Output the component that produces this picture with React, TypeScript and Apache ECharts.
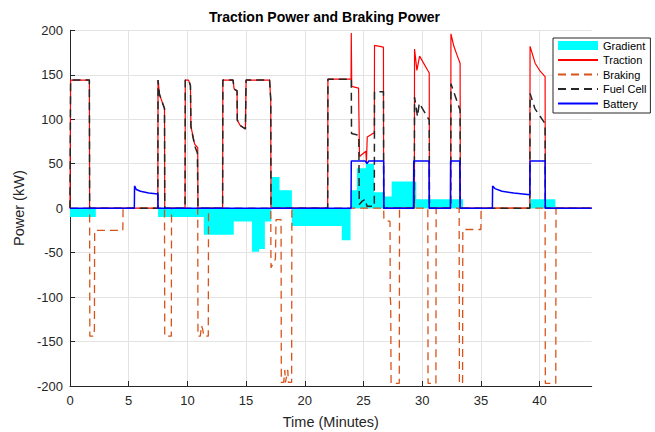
import React, { useEffect, useRef } from "react";
import * as echarts from "echarts";

const titleText = "Traction Power and Braking Power";
const xName = "Time (Minutes)";
const yName = "Power (kW)";
const seriesNames = ["Gradient", "Traction", "Braking", "Fuel Cell", "Battery"];
const xTicks = [0, 5, 10, 15, 20, 25, 30, 35, 40];
const yTicks = [-200, -150, -100, -50, 0, 50, 100, 150, 200];
const X_MAX = 44.44;

// Gradient: step values, each held from its time until the next one
const gradient: [number, number][] = [
  [0, -10], [2.2, 0], [7.5, -10], [11.4, -30], [13.95, -15], [15.5, -49], [16.1, -46],
  [16.6, -15], [17.15, 35], [17.85, 20], [18.9, -20], [23.15, -36], [23.9, 20],
  [24.45, 45], [25.2, 50], [25.9, 18], [26.7, 13], [27.4, 30], [29.5, 10], [33.48, 0],
  [39.19, 10], [41.35, 0], [44.44, 0],
];

const traction: [number, number][] = [
  [0, 0], [0.05, 144], [1.65, 144], [1.67, 0],
  [7.48, 0], [7.5, 144], [7.62, 128], [8.05, 112], [8.07, 0],
  [9.8, 0], [9.82, 144], [10.1, 144], [10.26, 138], [10.3, 92], [10.62, 72], [10.88, 68], [10.9, 0],
  [13.0, 0], [13.02, 144], [13.89, 144], [13.98, 134], [14.23, 132], [14.25, 99], [14.5, 93], [14.94, 89],
  [15.0, 144], [17.0, 144], [17.1, 122], [17.12, 0],
  [21.95, 0], [21.97, 145], [23.94, 145], [23.96, 197], [24.0, 137], [24.58, 135], [24.66, 58],
  [25.2, 64], [25.25, 52], [25.32, 80], [25.8, 84], [25.92, 84], [25.94, 183], [26.7, 181], [26.72, 0],
  [29.33, 0], [29.35, 179], [29.55, 155], [29.78, 171], [30.6, 152], [30.62, 0],
  [32.43, 0], [32.45, 196], [32.7, 182], [33.0, 171], [33.23, 163], [33.25, 0],
  [39.17, 0], [39.19, 182], [39.62, 163], [40.05, 154], [40.47, 148], [40.49, 0],
  [44.44, 0],
];

const braking: [number, number][] = [
  [0, 0], [1.67, 0], [1.69, -144], [2.05, -144], [2.08, -135], [2.1, -25], [4.5, -25], [4.52, 0],
  [8.05, 0], [8.07, -144], [8.63, -144], [8.65, 0],
  [10.88, 0], [10.9, -144], [11.1, -144], [11.2, -132], [11.3, -136], [11.4, -144], [11.78, -144], [11.8, 0],
  [17.1, 0], [17.12, -67], [17.5, -57], [17.55, -13], [17.98, -13], [18.0, -196], [18.2, -196],
  [18.3, -182], [18.35, -196], [18.55, -182], [18.6, -196], [18.88, -196], [18.9, 0],
  [26.72, 0], [26.74, -13], [27.26, -15], [27.28, -100], [27.32, -108], [27.35, -197], [28.05, -197], [28.07, 0],
  [30.48, 0], [30.5, -197], [31.17, -197], [31.19, 0],
  [33.15, 0], [33.17, -197], [33.44, -197], [33.46, -24], [35.0, -24], [35.02, 0],
  [40.47, 0], [40.49, -197], [41.38, -197], [41.4, 0],
  [44.44, 0],
];

const fuelCell: [number, number][] = [
  [0, 0], [0.05, 144], [1.65, 144], [1.67, 0],
  [7.48, 0], [7.5, 144], [7.62, 128], [8.05, 112], [8.07, 0],
  [9.8, 0], [9.82, 144], [10.1, 144], [10.26, 138], [10.3, 92], [10.62, 70], [10.85, 62], [10.9, 0],
  [13.0, 0], [13.02, 144], [13.89, 144], [13.98, 134], [14.23, 132], [14.25, 99], [14.5, 93], [14.94, 89],
  [15.0, 144], [17.0, 144], [17.1, 122], [17.12, 0],
  [21.95, 0], [21.97, 145], [23.96, 145], [23.98, 84], [24.6, 82], [24.64, 4], [24.9, 8], [25.15, 10],
  [25.3, 2], [25.92, 2], [25.94, 131], [26.7, 131], [26.72, 0],
  [29.33, 0], [29.35, 125], [29.6, 103], [29.75, 118], [30.6, 99], [30.62, 0],
  [32.43, 0], [32.45, 140], [33.23, 110], [33.25, 0],
  [39.17, 0], [39.19, 129], [39.6, 112], [40.47, 95], [40.49, 0],
  [44.44, 0],
];

const battery: [number, number][] = [
  [0, 0], [5.48, 0], [5.5, 25], [5.65, 21], [6.0, 19], [6.7, 17], [7.48, 16], [7.5, 0],
  [23.94, 0], [23.96, 53], [25.15, 53], [25.3, 50], [25.45, 53], [26.72, 53], [26.74, 0],
  [29.26, 0], [29.28, 53], [30.58, 53], [30.6, 0],
  [32.4, 0], [32.42, 53], [33.2, 53], [33.22, 0],
  [35.98, 0], [36.0, 25], [36.2, 22], [36.8, 19], [37.8, 17], [39.17, 15], [39.19, 53], [40.47, 53], [40.49, 0],
  [44.44, 0],
];

export default function App() {
  const ref = useRef<HTMLDivElement>(null);
  useEffect(() => {
    const chart = echarts.init(ref.current!, null, { renderer: "svg" });
    const font = "'Liberation Sans', Arial, Helvetica, sans-serif";
    const axisColor = "#262626";
    const gridColor = "#E3E3E3";
    chart.setOption({
      animation: false,
      backgroundColor: "#ffffff",
      title: {
        text: titleText,
        left: 209,
        top: 10,
        padding: 0,
        textStyle: { fontFamily: font, fontSize: 14, fontWeight: "bold", color: "#000" },
      },
      legend: {
        orient: "vertical",
        left: 553,
        top: 38,
        backgroundColor: "#fff",
        borderColor: axisColor,
        borderWidth: 1,
        padding: [2, 4, 4, 4],
        itemGap: 3.5,
        itemWidth: 40,
        itemHeight: 9,
        itemStyle: { opacity: 0 },
        textStyle: { fontFamily: font, fontSize: 11, color: "#000" },
        data: [
          { name: seriesNames[0], icon: "rect", itemStyle: { opacity: 1, color: "#00FFFF" } },
          seriesNames[1], seriesNames[2], seriesNames[3], seriesNames[4],
        ],
      },
      grid: { left: 70, right: 63.3, top: 30.3, bottom: 46, outerBoundsMode: "none" },
      xAxis: {
        type: "value",
        min: 0,
        max: X_MAX,
        interval: 5,
        name: xName,
        nameLocation: "middle",
        nameGap: 28,
        nameTextStyle: { fontFamily: font, fontSize: 14.5, color: axisColor },
        axisLine: { onZero: false, lineStyle: { color: axisColor, width: 1 } },
        axisTick: { inside: true, length: 5, customValues: xTicks, lineStyle: { color: axisColor } },
        axisLabel: {
          customValues: xTicks,
          margin: 8,
          fontFamily: font,
          fontSize: 13,
          color: axisColor,
          formatter: (v: number) => (xTicks.includes(v) ? String(v) : ""),
        },
        splitLine: { show: true, lineStyle: { color: gridColor, width: 1 } },
      },
      yAxis: {
        type: "value",
        min: yTicks[0],
        max: yTicks[yTicks.length - 1],
        interval: 50,
        name: yName,
        nameLocation: "middle",
        nameGap: 40,
        nameTextStyle: { fontFamily: font, fontSize: 14.5, color: axisColor },
        axisLine: { show: true, onZero: false, lineStyle: { color: axisColor, width: 1 } },
        axisTick: { show: true, inside: true, length: 5, lineStyle: { color: axisColor } },
        axisLabel: { margin: 7, fontFamily: font, fontSize: 13, color: axisColor },
        splitLine: { show: true, lineStyle: { color: gridColor, width: 1 } },
      },
      series: [
        {
          name: seriesNames[0],
          type: "line",
          step: "end",
          data: gradient,
          symbol: "none",
          color: "#00FFFF",
          lineStyle: { width: 0, color: "#00FFFF" },
          areaStyle: { color: "#00FFFF", opacity: 1 },
          silent: true,
        },
        {
          name: seriesNames[1],
          type: "line",
          data: traction,
          symbol: "none",
          color: "#FF0000",
          lineStyle: { width: 1.2, color: "#FF0000" },
          silent: true,
        },
        {
          name: seriesNames[2],
          type: "line",
          data: braking,
          symbol: "none",
          color: "#D95319",
          lineStyle: { width: 1.3, color: "#D95319", type: [8, 5] },
          silent: true,
        },
        {
          name: seriesNames[3],
          type: "line",
          data: fuelCell,
          symbol: "none",
          color: "#262626",
          lineStyle: { width: 1.5, color: "#262626", type: [8, 5] },
          silent: true,
        },
        {
          name: seriesNames[4],
          type: "line",
          data: battery,
          symbol: "none",
          color: "#0000FF",
          lineStyle: { width: 1.5, color: "#0000FF" },
          silent: true,
        },
      ],
    });
    return () => chart.dispose();
  }, []);
  return (
    <div
      ref={ref}
      style={{ position: "absolute", left: 0, top: 0, width: 655, height: 432 }}
    />
  );
}
